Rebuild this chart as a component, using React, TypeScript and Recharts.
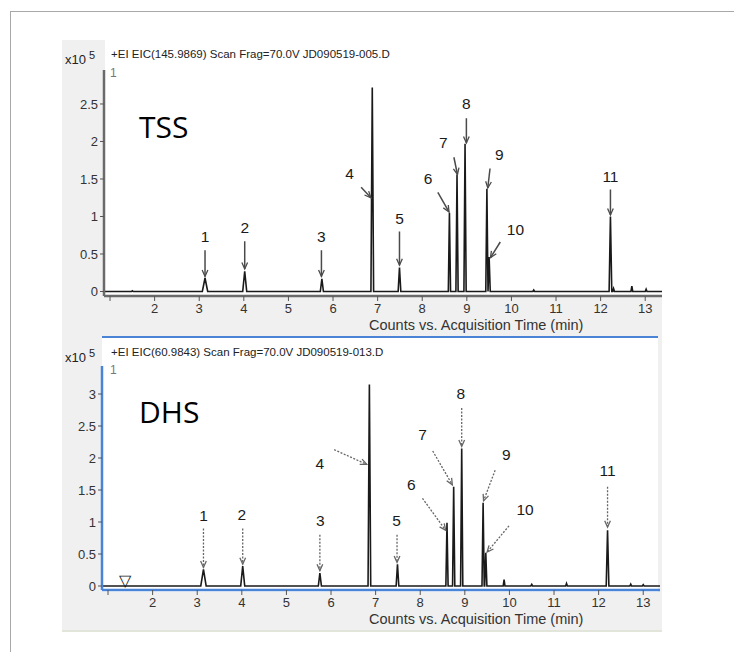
import React from "react";
import {
  ComposedChart,
  Line,
  Scatter,
  XAxis,
  YAxis,
  ReferenceLine,
} from "recharts";

// x axis (acquisition time, min)
const X_MIN = 0.865;
const X_MAX = 13.376;
const X_TICKS = [1, 2, 3, 4, 5, 6, 7, 8, 9, 10, 11, 12, 13];

// y axis (counts, x10^5)
const TSS_Y_TICKS = [0, 0.5, 1, 1.5, 2, 2.5];
const DHS_Y_TICKS = [0, 0.5, 1, 1.5, 2, 2.5, 3];

// peaks 1..11
const PEAK_NO = ["1", "2", "3", "4", "5", "6", "7", "8", "9", "10", "11"];
const HALF_WIDTH = [0.06, 0.045, 0.035, 0.03, 0.03, 0.025, 0.025, 0.025, 0.025, 0.025, 0.03];

const TSS_RT = [3.13, 4.02, 5.75, 6.88, 7.49, 8.61, 8.78, 8.96, 9.45, 9.5, 12.22];
const TSS_HEIGHT = [0.18, 0.27, 0.17, 2.72, 0.32, 1.05, 1.56, 1.97, 1.37, 0.46, 1.0];
const TSS_MINOR_RT = [1.5, 10.5, 12.29, 12.7, 13.02];
const TSS_MINOR_H = [0.01, 0.02, 0.04, 0.07, 0.03];

const DHS_RT = [3.14, 4.02, 5.75, 6.86, 7.49, 8.6, 8.75, 8.93, 9.41, 9.47, 12.2];
const DHS_HEIGHT = [0.26, 0.31, 0.2, 3.15, 0.34, 0.99, 1.55, 2.15, 1.3, 0.52, 0.87];
const DHS_MINOR_RT = [9.88, 10.5, 11.28, 12.72, 13.0];
const DHS_MINOR_H = [0.1, 0.025, 0.04, 0.03, 0.02];

// peak number labels (data units)
const TSS_LABEL_X = [3.13, 4.02, 5.74, 6.37, 7.49, 8.13, 8.47, 8.99, 9.73, 10.09, 12.22];
const TSS_LABEL_Y = [0.73, 0.85, 0.73, 1.57, 0.97, 1.5, 1.98, 2.5, 1.83, 0.83, 1.53];
const DHS_LABEL_X = [3.14, 4.0, 5.76, 5.75, 7.47, 7.8, 8.05, 8.91, 9.93, 10.35, 12.2];
const DHS_LABEL_Y = [1.1, 1.11, 1.02, 1.91, 1.03, 1.58, 2.36, 3.01, 2.05, 1.19, 1.81];

// arrows [x1, y1, x2, y2] (data units)
const TSS_ARROWS = [
  [3.13, 0.55, 3.13, 0.2],
  [4.02, 0.67, 4.02, 0.3],
  [5.74, 0.55, 5.74, 0.2],
  [6.63, 1.39, 6.85, 1.25],
  [7.49, 0.8, 7.49, 0.35],
  [8.35, 1.32, 8.6, 1.06],
  [8.71, 1.79, 8.79, 1.56],
  [8.99, 2.31, 8.99, 1.98],
  [9.52, 1.64, 9.47, 1.38],
  [9.75, 0.66, 9.53, 0.45],
  [12.22, 1.36, 12.22, 1.02],
];
const DHS_ARROWS = [
  [3.14, 0.9, 3.14, 0.29],
  [4.02, 0.9, 4.02, 0.34],
  [5.75, 0.8, 5.75, 0.24],
  [6.07, 2.13, 6.8, 1.9],
  [7.48, 0.8, 7.48, 0.37],
  [8.05, 1.37, 8.57, 0.87],
  [8.28, 2.11, 8.72, 1.58],
  [8.93, 2.78, 8.93, 2.18],
  [9.68, 1.81, 9.42, 1.33],
  [9.99, 0.94, 9.5, 0.53],
  [12.2, 1.55, 12.2, 0.92],
];

const FONT = '"Liberation Sans", Arial, sans-serif';
const BLUE = "#4a84d6";

function buildTrace(rt: number[], h: number[], minorRt: number[], minorH: number[]) {
  const pts = [
    { x: X_MIN, y: 0 },
    { x: X_MAX, y: 0 },
  ];
  rt.forEach((t, i) => {
    const w = HALF_WIDTH[i];
    pts.push({ x: t - w, y: 0 }, { x: t, y: h[i] }, { x: t + w, y: 0 });
  });
  minorRt.forEach((t, i) => {
    pts.push({ x: t - 0.02, y: 0 }, { x: t, y: minorH[i] }, { x: t + 0.02, y: 0 });
  });
  return pts.sort((a, b) => a.x - b.x);
}

const arrowShape = (dashed: boolean) => (p: any) => {
  const { x1, y1, x2, y2 } = p;
  const ang = Math.atan2(y2 - y1, x2 - x1);
  const L = 7;
  const s = 0.42;
  const ax = x2 - L * Math.cos(ang - s);
  const ay = y2 - L * Math.sin(ang - s);
  const bx = x2 - L * Math.cos(ang + s);
  const by = y2 - L * Math.sin(ang + s);
  const color = dashed ? "#666" : "#4a4a4a";
  return (
    <g>
      <line
        x1={x1}
        y1={y1}
        x2={x2}
        y2={y2}
        stroke={color}
        strokeWidth={dashed ? 1.3 : 1.5}
        strokeDasharray={dashed ? "2 1.5" : undefined}
      />
      <path
        d={`M${ax},${ay} L${x2},${y2} L${bx},${by}`}
        fill="none"
        stroke={color}
        strokeWidth={1.3}
      />
    </g>
  );
};

const LabelShape = (p: any) => (
  <text
    x={p.cx}
    y={p.cy}
    textAnchor="middle"
    dominantBaseline="central"
    fontSize={15.5}
    fontFamily={FONT}
    fill="#1a1a1a"
  >
    {p.payload.text}
  </text>
);

interface PanelProps {
  left: number;
  top: number;
  height: number;
  marginTop: number;
  yDomain: [number, number];
  yTicks: number[];
  trace: { x: number; y: number }[];
  labels: { x: number; y: number; text: string }[];
  arrows: number[][];
  dashed: boolean;
  axisColor: string;
}

function Chromatogram({
  left,
  top,
  height,
  marginTop,
  yDomain,
  yTicks,
  trace,
  labels,
  arrows,
  dashed,
  axisColor,
}: PanelProps) {
  return (
    <div style={{ position: "absolute", left, top }}>
      <ComposedChart
        width={600}
        height={height}
        data={trace}
        margin={{ top: marginTop, right: 0, bottom: 0, left: 0 }}
      >
        <XAxis
          type="number"
          dataKey="x"
          domain={[X_MIN, X_MAX]}
          ticks={X_TICKS}
          interval={0}
          allowDataOverflow
          height={40}
          tickSize={5}
          tickMargin={3}
          tickFormatter={(v) => (v === 1 ? "" : String(v))}
          axisLine={{ stroke: axisColor, strokeWidth: 2.5 }}
          tickLine={{ stroke: "#555" }}
          tick={{ fontSize: 13, fill: "#333", fontFamily: FONT }}
        />
        <YAxis
          type="number"
          dataKey="y"
          domain={yDomain}
          ticks={yTicks}
          interval={0}
          allowDataOverflow
          width={42}
          tickSize={4}
          axisLine={{ stroke: axisColor, strokeWidth: 2.5 }}
          tickLine={{ stroke: "#555" }}
          tick={{ fontSize: 13, fill: "#333", fontFamily: FONT }}
        />
        <Line
          dataKey="y"
          type="linear"
          stroke="#1a1a1a"
          strokeWidth={1.6}
          dot={false}
          isAnimationActive={false}
        />
        {arrows.map((a, i) => (
          <ReferenceLine
            key={i}
            segment={[
              { x: a[0], y: a[1] },
              { x: a[2], y: a[3] },
            ]}
            ifOverflow="visible"
            shape={arrowShape(dashed)}
          />
        ))}
        <Scatter data={labels} shape={LabelShape} isAnimationActive={false} />
      </ComposedChart>
    </div>
  );
}

const txt = (style: React.CSSProperties): React.CSSProperties => ({
  position: "absolute",
  fontFamily: FONT,
  whiteSpace: "nowrap",
  lineHeight: 1,
  color: "#222",
  ...style,
});

function Scale({ left, top }: { left: number; top: number }) {
  return (
    <div style={txt({ left, top, fontSize: 13 })}>
      x10
      <span style={{ fontSize: 11, position: "relative", top: -5, marginLeft: 3 }}>5</span>
    </div>
  );
}

export default function App() {
  const tssTrace = buildTrace(TSS_RT, TSS_HEIGHT, TSS_MINOR_RT, TSS_MINOR_H);
  const dhsTrace = buildTrace(DHS_RT, DHS_HEIGHT, DHS_MINOR_RT, DHS_MINOR_H);
  const tssLabels = PEAK_NO.map((t, i) => ({ x: TSS_LABEL_X[i], y: TSS_LABEL_Y[i], text: t }));
  const dhsLabels = PEAK_NO.map((t, i) => ({ x: DHS_LABEL_X[i], y: DHS_LABEL_Y[i], text: t }));
  dhsLabels.push({ x: 1.37, y: 0.09, text: "▽" });

  return (
    <div
      style={{
        position: "absolute",
        left: 0,
        top: 0,
        width: 734,
        height: 652,
        overflow: "hidden",
        background: "#fff",
      }}
    >
      {/* outer frame */}
      <div
        style={{
          position: "absolute",
          left: 10,
          top: 11,
          width: 760,
          height: 700,
          borderTop: "1px solid #a8a8a8",
          borderLeft: "1px solid #a8a8a8",
        }}
      />
      {/* grey panel */}
      <div
        style={{
          position: "absolute",
          left: 62,
          top: 40,
          width: 600,
          height: 590,
          background: "#f0f0f0",
          borderBottom: "2px solid #e2e5da",
        }}
      />
      {/* plot backgrounds */}
      <div style={{ position: "absolute", left: 105, top: 40, width: 557, height: 256, background: "#fff" }} />
      <div
        style={{
          position: "absolute",
          left: 102,
          top: 336,
          width: 556,
          height: 254,
          background: "#fff",
          borderTop: `2px solid ${BLUE}`,
        }}
      />

      <Chromatogram
        left={62}
        top={40}
        height={296}
        marginTop={30}
        yDomain={[-0.06, 2.953]}
        yTicks={TSS_Y_TICKS}
        trace={tssTrace}
        labels={tssLabels}
        arrows={TSS_ARROWS}
        dashed={false}
        axisColor="#6a6a6a"
      />
      <Chromatogram
        left={60}
        top={336}
        height={294}
        marginTop={30}
        yDomain={[-0.0625, 3.4375]}
        yTicks={DHS_Y_TICKS}
        trace={dhsTrace}
        labels={dhsLabels}
        arrows={DHS_ARROWS}
        dashed={true}
        axisColor={BLUE}
      />

      {/* headers */}
      <Scale left={65} top={53} />
      <div style={txt({ left: 111, top: 48.5, fontSize: 11.5 })}>
        +EI EIC(145.9869) Scan Frag=70.0V JD090519-005.D
      </div>
      <div style={txt({ left: 110, top: 67, fontSize: 12, color: "#777" })}>1</div>
      <Scale left={65} top={351} />
      <div style={txt({ left: 111, top: 346.5, fontSize: 11.5 })}>
        +EI EIC(60.9843) Scan Frag=70.0V JD090519-013.D
      </div>
      <div style={txt({ left: 110, top: 364, fontSize: 12, color: "#777" })}>1</div>

      {/* sample labels */}
      <div style={txt({ left: 139, top: 112, fontSize: 30, fontFamily: '"Open Sans", sans-serif', color: "#000" })}>
        TSS
      </div>
      <div style={txt({ left: 139, top: 397, fontSize: 30, fontFamily: '"Open Sans", sans-serif', color: "#000" })}>
        DHS
      </div>

      {/* axis titles */}
      <div style={txt({ left: 369, top: 318, fontSize: 14.5, color: "#333" })}>
        Counts vs. Acquisition Time (min)
      </div>
      <div style={txt({ left: 369, top: 612, fontSize: 14.5, color: "#333" })}>
        Counts vs. Acquisition Time (min)
      </div>
    </div>
  );
}
